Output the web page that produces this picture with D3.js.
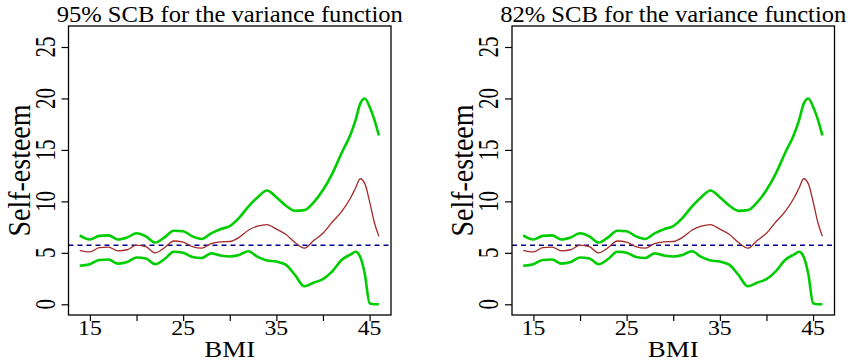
<!DOCTYPE html>
<html>
<head>
<meta charset="utf-8">
<script src="https://cdn.jsdelivr.net/npm/d3@7"></script>
<style>
  body { margin: 0; background: #fff; }
  svg text { font-family: "Liberation Serif", "Times New Roman", serif; fill: #000; }
</style>
</head>
<body>
<div id="chart"></div>
<script>
// BMI grid the curves are read at
const bmi = [13.9, 15, 16, 17, 18, 19, 20, 21, 22, 23, 24, 25, 26, 27, 28, 29, 30, 31, 32, 33,
  34, 35, 36, 37, 38, 39, 40, 41, 42, 43, 43.5, 44, 44.5, 45, 45.5, 46];

// upper band (green)
const upper = [6.7, 6.3, 6.65, 6.7, 6.3, 6.5, 6.9, 6.6, 6.0, 6.5, 7.15, 7.1, 6.6, 6.35, 6.9, 7.3, 7.6, 8.4, 9.5, 10.4,
  11.05, 10.4, 9.6, 9.08, 9.15, 9.9, 11.1, 12.7, 14.7, 16.6, 17.9, 19.5, 20.0, 19.2, 18.0, 16.4];

// estimated variance function (dark red)
const estimate = [5.25, 5.1, 5.5, 5.55, 5.2, 5.3, 5.75, 5.6, 5.0, 5.5, 6.15, 6.05, 5.6, 5.45, 5.9, 6.06, 6.1, 6.5, 7.2, 7.6,
  7.75, 7.3, 6.8, 6.0, 5.45, 6.2, 6.9, 8.0, 9.0, 10.4, 11.3, 12.2, 11.7, 10.0, 8.0, 6.6];

// lower band (green)
const lower = [3.75, 3.9, 4.3, 4.35, 3.95, 4.1, 4.55, 4.45, 3.9, 4.4, 5.1, 5.0, 4.6, 4.5, 4.95, 4.75, 4.65, 4.8, 5.15, 4.6,
  4.25, 4.15, 3.85, 2.85, 1.75, 2.1, 2.45, 3.2, 4.3, 4.86, 5.1, 4.6, 2.9, 0.1, 0, 0];

const refLevel = 5.73; // dashed horizontal line

const titles = ["95% SCB for the variance function", "82% SCB for the variance function"];
const xTicks = [15, 20, 25, 30, 35, 40, 45];
const xLabelTicks = [15, 25, 35, 45]; // R drops the labels that would overlap
const yTicks = [0, 5, 10, 15, 20, 25];

const W = 848, H = 364;
const plotW = 322.5, plotH = 289;
const panelLeft = [68.5, 512];
const plotTop = 26;

const svg = d3.select('#chart')
  .append('svg')
  .attr('width', W)
  .attr('height', H);

const x = d3.scaleLinear().domain([12.7, 47.3]).range([0, plotW]);
const y = d3.scaleLinear().domain([-1.04, 27.04]).range([plotH, 0]);

const line = (vals) => d3.line()
  .x((d, i) => x(bmi[i]))
  .y(d => y(d))
  .curve(d3.curveMonotoneX)(vals);

titles.forEach((title, p) => {
  const g = svg.append('g')
    .attr('transform', `translate(${panelLeft[p]},${plotTop})`);

  // title (the original is a little wider than plain Times)
  g.append('text')
    .attr('transform', `translate(${plotW / 2},-4) scale(1.07,1)`)
    .attr('text-anchor', 'middle')
    .style('font-size', '23px')
    .text(title);

  // tick marks only, labels drawn below
  const xAxis = g.append('g')
    .attr('transform', `translate(0,${plotH})`)
    .call(d3.axisBottom(x).tickValues(xTicks).tickSize(6).tickFormat(''));
  xAxis.select('.domain').remove();

  const yAxis = g.append('g')
    .call(d3.axisLeft(y).tickValues(yTicks).tickSize(7).tickFormat(''));
  yAxis.select('.domain').remove();
  g.selectAll('.tick line').attr('stroke-width', 1.2);

  g.selectAll('.xlab')
    .data(xLabelTicks)
    .enter()
    .append('text')
    .attr('class', 'xlab')
    .attr('transform', d => `translate(${x(d)},${plotH + 20}) scale(1.08,1)`)
    .attr('text-anchor', 'middle')
    .style('font-size', '22px')
    .text(d => d);

  g.selectAll('.ylab')
    .data(yTicks)
    .enter()
    .append('text')
    .attr('class', 'ylab')
    .attr('transform', d => `translate(-14,${y(d)}) rotate(-90) scale(1,1.4)`)
    .attr('text-anchor', 'middle')
    .style('font-size', '21px')
    .text(d => d);

  // axis titles
  g.append('text')
    .attr('transform', `translate(${plotW / 2},${plotH + 42}) scale(1.17,1)`)
    .attr('text-anchor', 'middle')
    .style('font-size', '23px')
    .text('BMI');

  g.append('text')
    .attr('transform', `translate(${-39},${plotH / 2}) rotate(-90) scale(1,1.12)`)
    .attr('text-anchor', 'middle')
    .style('font-size', '28px')
    .text('Self-esteem');

  // reference line
  g.append('line')
    .attr('x1', 0).attr('x2', plotW)
    .attr('y1', y(refLevel)).attr('y2', y(refLevel))
    .attr('stroke', '#00008b')
    .attr('stroke-width', 1.5)
    .attr('stroke-dasharray', '5,4');

  // curves
  g.append('path').attr('d', line(upper))
    .attr('fill', 'none').attr('stroke', '#00cd00').attr('stroke-width', 2.6);
  g.append('path').attr('d', line(lower))
    .attr('fill', 'none').attr('stroke', '#00cd00').attr('stroke-width', 2.6);
  g.append('path').attr('d', line(estimate))
    .attr('fill', 'none').attr('stroke', '#a52a2a').attr('stroke-width', 1.3);

  // frame
  g.append('rect')
    .attr('width', plotW).attr('height', plotH)
    .attr('fill', 'none').attr('stroke', '#000').attr('stroke-width', 1.3);
});
</script>
</body>
</html>
